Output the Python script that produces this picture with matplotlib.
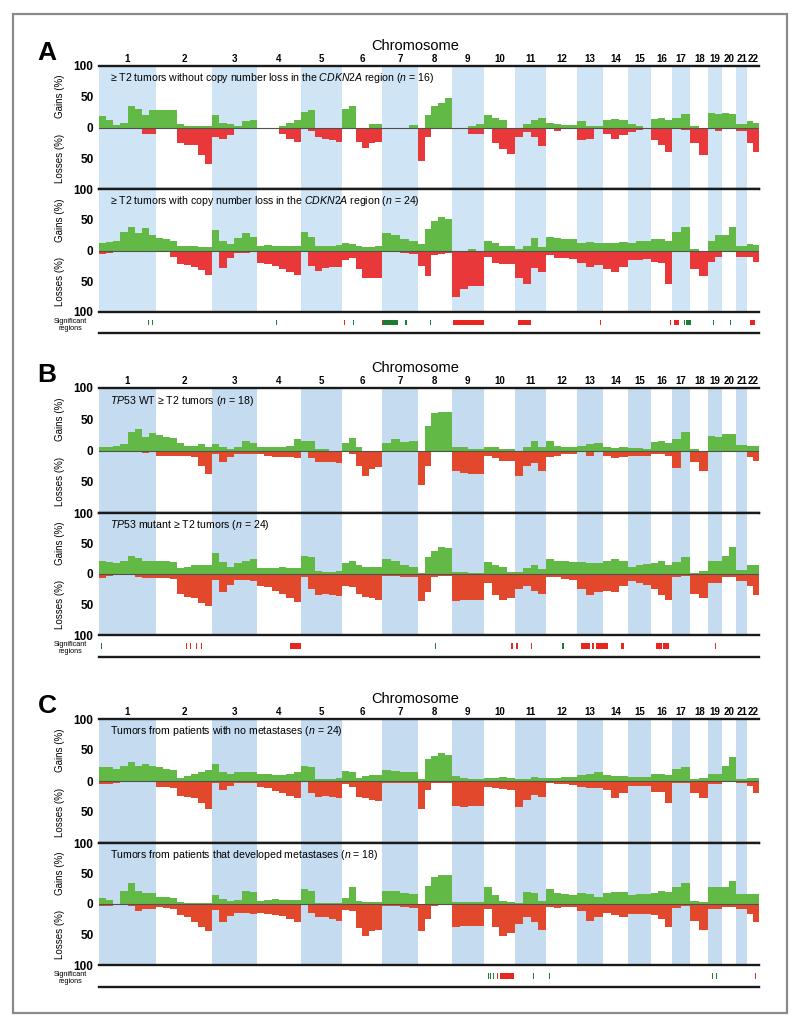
import matplotlib

matplotlib.use("Agg")
import matplotlib.pyplot as plt
import numpy as np
from matplotlib.patches import Rectangle

plt.rcParams["font.family"] = ["Liberation Sans", "DejaVu Sans"]
plt.rcParams["mathtext.fontset"] = "custom"
plt.rcParams["mathtext.it"] = "Liberation Sans:italic"
plt.rcParams["mathtext.rm"] = "Liberation Sans"

# chromosome sizes (Mb, hg19) -> x axis is the concatenated genome
CHROM_NAMES = [str(i) for i in range(1, 23)]
CHROM_LEN_MB = [249, 243, 198, 191, 181, 171, 159, 146, 141, 136, 135,
                134, 115, 107, 103, 90, 81, 78, 59, 63, 48, 51]

# frequency (%) per chromosome, bins spread evenly along each chromosome
A1_GAIN = [[18, 12, 4, 8, 35, 30, 20, 28], [29, 29, 29, 5, 3, 3, 3, 2],
           [20, 8, 6, 3, 10, 12], [0, 0, 0, 3, 8, 12], [25, 28, 0, 0, 0, 0],
           [30, 35, 0, 0, 5, 6], [0, 0, 0, 4], [0, 20, 35, 40, 48],
           [0, 0, 3, 5], [20, 15, 12, 0], [0, 5, 13, 15], [8, 5, 4, 4],
           [11, 3, 2], [12, 14, 13], [5, 3, 0], [14, 15, 12], [15, 22],
           [3, 0], [24, 22], [24, 22], [5], [10, 8]]
A1_LOSS = [[0, 0, 2, 0, 0, 3, 11, 11], [0, 0, 0, 25, 28, 28, 45, 60],
           [15, 18, 12, 0, 3, 0], [3, 3, 3, 10, 18, 24], [0, 5, 16, 18, 20, 24],
           [0, 3, 24, 33, 25, 24], [0, 0, 0, 0], [55, 15, 3, 3, 3],
           [3, 3, 11, 11], [0, 25, 35, 43], [16, 8, 15, 30], [0, 6, 0, 0],
           [20, 18, 0], [10, 18, 12], [8, 4, 3], [20, 28, 40], [0, 4],
           [25, 45], [3, 5], [3, 3], [6], [25, 40]]

A2_GAIN = [[12, 14, 15, 30, 38, 28, 36, 25], [20, 18, 16, 8, 8, 8, 6, 5],
           [33, 15, 10, 20, 28, 22], [8, 9, 7, 8, 8, 7], [30, 22, 8, 8, 8, 9],
           [12, 10, 8, 5, 6, 8], [28, 25, 18, 15], [10, 35, 48, 55, 52],
           [0, 0, 2, 0], [16, 12, 8, 8], [2, 8, 20, 5], [22, 20, 18, 18],
           [13, 14, 12], [12, 13, 14], [12, 16, 16], [18, 18, 15], [30, 38],
           [3, 0], [15, 25], [25, 38], [8], [10, 9]]
A2_LOSS = [[5, 4, 0, 0, 0, 0, 0, 0], [0, 3, 10, 22, 24, 27, 32, 40],
           [0, 28, 12, 4, 4, 3], [20, 22, 25, 30, 35, 40], [0, 25, 33, 28, 27, 27],
           [15, 12, 30, 44, 45, 45], [3, 3, 4, 5], [25, 42, 8, 5, 4],
           [75, 62, 58, 58], [10, 20, 22, 22], [45, 55, 28, 35], [8, 12, 12, 14],
           [20, 27, 24], [30, 35, 27], [16, 16, 14], [18, 20, 55], [2, 0],
           [30, 42], [18, 10], [3, 3], [11], [10, 18]]

B1_GAIN = [[5, 5, 8, 10, 30, 35, 22, 28], [25, 22, 20, 12, 8, 8, 10, 5],
           [10, 5, 3, 5, 15, 12], [5, 5, 5, 5, 8, 18], [16, 16, 2, 2, 0, 0],
           [12, 20, 5, 0, 0, 0], [12, 18, 14, 16], [0, 40, 60, 62, 62],
           [5, 5, 3, 3], [5, 5, 3, 3], [0, 5, 15, 5], [15, 8, 5, 5],
           [8, 10, 12], [5, 4, 5], [4, 4, 3], [13, 15, 12], [18, 30],
           [3, 0], [24, 22], [26, 26], [9], [8, 8]]
B1_LOSS = [[0, 0, 2, 0, 0, 2, 4, 0], [8, 8, 8, 8, 8, 10, 25, 38],
           [5, 18, 10, 5, 5, 5], [5, 8, 10, 10, 10, 12], [0, 12, 18, 18, 18, 20],
           [3, 5, 25, 40, 30, 26], [2, 0, 0, 0], [55, 25, 3, 3, 3],
           [32, 36, 37, 37], [8, 12, 16, 16], [40, 25, 20, 32], [10, 8, 5, 5],
           [3, 8, 3], [8, 12, 10], [8, 8, 8], [5, 5, 8], [28, 3],
           [18, 32], [3, 3], [3, 3], [3], [10, 16]]

B2_GAIN = [[22, 20, 18, 22, 30, 26, 22, 22], [22, 22, 20, 10, 12, 14, 15, 15],
           [35, 20, 12, 18, 22, 25], [10, 10, 10, 12, 10, 10], [30, 28, 5, 4, 4, 5],
           [18, 22, 14, 12, 12, 12], [25, 22, 15, 12], [2, 28, 38, 45, 42],
           [4, 3, 2, 2], [20, 15, 12, 3], [3, 10, 15, 8], [25, 22, 22, 20],
           [20, 18, 18], [22, 25, 22], [12, 14, 16], [18, 22, 15], [20, 28],
           [2, 5], [21, 21], [30, 45], [7], [15, 15]]
B2_LOSS = [[6, 4, 2, 2, 2, 5, 7, 7], [7, 7, 8, 32, 37, 40, 48, 52],
           [10, 30, 18, 10, 10, 12], [20, 22, 28, 33, 40, 46], [5, 25, 35, 33, 34, 36],
           [20, 22, 32, 38, 40, 42], [3, 4, 5, 5], [45, 30, 5, 4, 3],
           [45, 42, 42, 42], [15, 35, 42, 40], [25, 20, 28, 33], [5, 5, 8, 10],
           [25, 35, 30], [28, 30, 20], [12, 15, 18], [25, 35, 42], [5, 3],
           [32, 40], [15, 15], [5, 5], [12], [20, 35]]

C1_GAIN = [[22, 22, 20, 24, 30, 25, 27, 25], [22, 20, 18, 5, 8, 12, 15, 18],
           [28, 15, 12, 14, 14, 14], [12, 12, 10, 10, 12, 14], [25, 22, 3, 3, 3, 5],
           [16, 15, 5, 8, 10, 10], [18, 16, 15, 14], [3, 35, 40, 45, 42],
           [8, 5, 3, 3], [5, 5, 6, 5], [3, 4, 6, 5], [5, 5, 6, 6],
           [10, 12, 15], [10, 8, 8], [7, 7, 7], [12, 12, 10], [19, 22],
           [3, 5], [11, 11], [25, 38], [3], [5, 5]]
C1_LOSS = [[5, 5, 3, 0, 0, 0, 0, 0], [10, 10, 12, 24, 25, 27, 35, 45],
           [3, 15, 8, 3, 3, 3], [10, 12, 16, 20, 24, 28], [0, 20, 25, 24, 25, 28],
           [5, 10, 25, 28, 30, 32], [3, 3, 3, 3], [45, 15, 3, 3, 3],
           [40, 42, 40, 40], [10, 12, 13, 14], [42, 30, 22, 25], [4, 5, 5, 6],
           [10, 12, 12], [15, 28, 20], [8, 8, 8], [18, 18, 35], [3, 3],
           [20, 28], [5, 5], [0, 0], [3], [8, 20]]

C2_GAIN = [[10, 6, 0, 22, 35, 22, 18, 18], [12, 11, 10, 3, 2, 2, 2, 2],
           [14, 8, 5, 6, 22, 20], [5, 6, 8, 7, 7, 6], [25, 22, 2, 2, 2, 2],
           [10, 28, 5, 3, 3, 3], [22, 22, 18, 16], [0, 30, 45, 48, 48],
           [4, 4, 3, 4], [28, 15, 5, 3], [2, 20, 18, 5], [25, 18, 16, 15],
           [18, 16, 12], [18, 20, 20], [15, 17, 17], [18, 22, 20], [28, 35],
           [5, 3], [28, 28], [28, 38], [17], [17, 17]]
C2_LOSS = [[3, 3, 0, 0, 3, 12, 8, 8], [5, 6, 8, 18, 22, 30, 38, 45],
           [10, 30, 20, 15, 15, 16], [15, 17, 18, 20, 25, 30], [2, 15, 22, 22, 25, 28],
           [10, 12, 40, 52, 45, 42], [3, 4, 5, 6], [45, 25, 3, 2, 2],
           [38, 36, 36, 36], [8, 38, 52, 48], [33, 22, 30, 42], [5, 6, 5, 5],
           [12, 28, 22], [15, 18, 22], [16, 17, 17], [18, 25, 38], [6, 4],
           [28, 42], [8, 8], [5, 5], [8], [17, 30]]

# significant regions: (start Mb, end Mb, 'g' gain / 'r' loss), genome coords
SIG_A = [(214, 219, "g"), (231, 236, "g"), (770, 775, "g"), (1067, 1072, "r"),
         (1108, 1113, "g"), (1233, 1240, "r"), (1240, 1303, "g"), (1334, 1344, "g"),
         (1442, 1447, "g"), (1545, 1680, "r"), (1826, 1884, "r"), (2184, 2189, "r"),
         (2489, 2494, "r"), (2509, 2531, "r"), (2550, 2555, "g"), (2561, 2583, "g"),
         (2678, 2683, "g"), (2751, 2756, "g"), (2840, 2862, "r")]
SIG_B = [(7, 12, "g"), (378, 384, "r"), (395, 401, "r"), (421, 427, "r"),
         (443, 449, "r"), (833, 881, "r"), (1464, 1469, "g"), (1799, 1805, "r"),
         (1821, 1827, "r"), (1883, 1888, "r"), (2020, 2030, "g"), (2103, 2142, "r"),
         (2152, 2158, "r"), (2168, 2221, "r"), (2279, 2288, "r"), (2430, 2457, "r"),
         (2460, 2487, "r"), (2685, 2691, "r")]
SIG_C = [(1695, 1700, "g"), (1704, 1709, "g"), (1717, 1722, "g"), (1735, 1740, "r"),
         (1750, 1811, "r"), (1892, 1897, "g"), (1961, 1966, "g"), (2673, 2678, "g"),
         (2690, 2695, "g"), (2860, 2865, "r")]

TITLE_A1 = r"≥ T2 tumors without copy number loss in the $\mathit{CDKN2A}$ region ($\mathit{n}$ = 16)"
TITLE_A2 = r"≥ T2 tumors with copy number loss in the $\mathit{CDKN2A}$ region ($\mathit{n}$ = 24)"
TITLE_B1 = r"$\mathit{TP53}$ WT ≥ T2 tumors ($\mathit{n}$ = 18)"
TITLE_B2 = r"$\mathit{TP53}$ mutant ≥ T2 tumors ($\mathit{n}$ = 24)"
TITLE_C1 = r"Tumors from patients with no metastases ($\mathit{n}$ = 24)"
TITLE_C2 = r"Tumors from patients that developed metastases ($\mathit{n}$ = 18)"

W, H = 800, 1029
X0, X1 = 99, 759
GREEN = "#62b946"
SIG_GREEN = "#1e7b33"
SIG_RED = "#e8251f"

starts = np.concatenate([[0], np.cumsum(CHROM_LEN_MB)[:-1]])
total = float(sum(CHROM_LEN_MB))


def px_axes(fig, x0, y0, x1, y1):
    return fig.add_axes([x0 / W, 1 - y1 / H, (x1 - x0) / W, (y1 - y0) / H])


def steps(per_chrom):
    xs, vs = [], []
    for s, ln, vals in zip(starts, CHROM_LEN_MB, per_chrom):
        n = len(vals)
        xs.extend(s + ln * np.arange(n) / n)
        vs.extend(vals)
    xs.append(total)
    vs.append(vs[-1])
    return np.array(xs), np.array(vs, dtype=float)


def draw_profile(ax, gain, loss, title, blue, red, last):
    for i, (s, ln) in enumerate(zip(starts, CHROM_LEN_MB)):
        if i % 2 == 0:
            ax.axvspan(s, s + ln, color=blue, lw=0, zorder=0)
    x, g = steps(gain)
    ax.fill_between(x, 0, g, step="post", color=GREEN, lw=0, zorder=2)
    x, l = steps(loss)
    ax.fill_between(x, 0, -l, step="post", color=red, lw=0, zorder=2)
    ax.axhline(0, color="#505050", lw=0.8, zorder=3)
    for yy in (100, -100):
        ax.axhline(yy, color="#1a1a1a", lw=1.7, zorder=4, clip_on=False)
    ax.set_xlim(0, total)
    ax.set_ylim(-100, 100)
    ticks = [100, 50, 0, -50, -100] if last else [100, 50, 0, -50]
    ax.set_yticks(ticks)
    ax.set_yticklabels([str(abs(t)) for t in ticks], fontweight="bold")
    ax.set_xticks([])
    ax.tick_params(axis="y", length=0, pad=4, labelsize=8.5)
    for sp in ax.spines.values():
        sp.set_visible(False)
    ax.text(0.017, 0.9, title, transform=ax.transAxes, fontsize=7.6,
            ha="left", va="center", zorder=5)


def draw_sig(ax, marks):
    for a, b, kind in marks:
        ax.broken_barh([(a, b - a)], (0.36, 0.28),
                       facecolors=SIG_GREEN if kind == "g" else SIG_RED, lw=0)
    ax.axhline(0, color="#1a1a1a", lw=1.7, clip_on=False)
    ax.set_xlim(0, total)
    ax.set_ylim(0, 1)
    ax.axis("off")


fig = plt.figure(figsize=(W / 100, H / 100), dpi=100)
fig.patches.append(Rectangle((13 / W, 1 - 1013 / H), 774 / W, 999 / H,
                             transform=fig.transFigure, fill=False,
                             edgecolor="#8a8a8a", lw=1.6))

panels = [
    ("A", 66, 189, 312, 333, A1_GAIN, A1_LOSS, A2_GAIN, A2_LOSS,
     TITLE_A1, TITLE_A2, SIG_A, "#cfe5f6", "#e8383a"),
    ("B", 388, 513, 635, 657, B1_GAIN, B1_LOSS, B2_GAIN, B2_LOSS,
     TITLE_B1, TITLE_B2, SIG_B, "#c4dbf0", "#e2492c"),
    ("C", 719, 843, 965, 987, C1_GAIN, C1_LOSS, C2_GAIN, C2_LOSS,
     TITLE_C1, TITLE_C2, SIG_C, "#c4dbf0", "#e2492c"),
]

for (letter, top, mid, bot, sbot, g1, l1, g2, l2,
     t1, t2, sig, blue, red) in panels:
    ax1 = px_axes(fig, X0, top, X1, mid)
    ax2 = px_axes(fig, X0, mid, X1, bot)
    axs = px_axes(fig, X0, bot, X1, sbot)
    draw_profile(ax1, g1, l1, t1, blue, red, last=False)
    draw_profile(ax2, g2, l2, t2, blue, red, last=True)
    draw_sig(axs, sig)

    fig.text(47 / W, 1 - (top - 13) / H, letter, fontsize=19,
             fontweight="bold", ha="center", va="center")
    fig.text(415 / W, 1 - (top - 20) / H, "Chromosome", fontsize=10.5,
             ha="center", va="center")
    for name, s, ln in zip(CHROM_NAMES, starts, CHROM_LEN_MB):
        xc = X0 + (s + ln / 2) / total * (X1 - X0)
        fig.text(xc / W, 1 - (top - 7) / H, name, fontsize=7,
                 fontweight="bold", ha="center", va="center")
    for y0, y1 in ((top, mid), (mid, bot)):
        z = (y0 + y1) / 2
        fig.text(60 / W, 1 - (y0 + z) / 2 / H, "Gains (%)", fontsize=7,
                 rotation=90, ha="center", va="center")
        fig.text(60 / W, 1 - (z + y1) / 2 / H, "Losses (%)", fontsize=7,
                 rotation=90, ha="center", va="center")
    fig.text(70 / W, 1 - (bot + 13) / H, "Significant\nregions", fontsize=5.2,
             ha="center", va="center", linespacing=0.85)

fig.savefig("out.png", dpi=100)
